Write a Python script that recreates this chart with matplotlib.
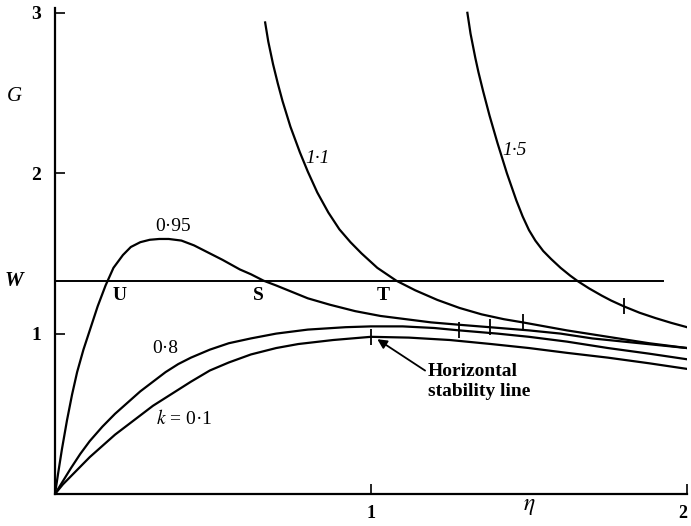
import matplotlib
matplotlib.use('Agg')
import matplotlib.pyplot as plt

# ─── Data (eta, G) ───
eta_k01 = [0.0, 0.025, 0.05, 0.08, 0.11, 0.15, 0.19, 0.23, 0.27, 0.31, 0.35, 0.39, 0.43, 0.49,
           0.55, 0.62, 0.70, 0.77, 0.88, 1.0, 1.12, 1.25, 1.38, 1.5, 1.62, 1.75, 1.88, 2.0]
G_k01 = [0.0, 0.06, 0.11, 0.17, 0.23, 0.30, 0.37, 0.43, 0.49, 0.55, 0.60, 0.65, 0.70, 0.77,
         0.82, 0.87, 0.91, 0.935, 0.96, 0.98, 0.975, 0.96, 0.935, 0.91, 0.88, 0.85, 0.815, 0.78]

eta_k08 = [0.0, 0.025, 0.05, 0.08, 0.11, 0.15, 0.19, 0.23, 0.27, 0.31, 0.35, 0.39, 0.43, 0.49,
           0.55, 0.62, 0.70, 0.80, 0.92, 1.0, 1.1, 1.2, 1.28, 1.4, 1.5, 1.62, 1.75, 1.88, 2.0]
G_k08 = [0.0, 0.08, 0.16, 0.25, 0.33, 0.42, 0.50, 0.57, 0.64, 0.70, 0.76, 0.81, 0.85, 0.90,
         0.94, 0.97, 1.00, 1.025, 1.04, 1.045, 1.045, 1.035, 1.02, 1.0, 0.98, 0.95, 0.91, 0.875, 0.84]

eta_k095 = [0.0, 0.01, 0.022, 0.038, 0.054, 0.07, 0.09, 0.11, 0.135, 0.16, 0.185, 0.215, 0.24,
            0.27, 0.30, 0.33, 0.36, 0.40, 0.44, 0.48, 0.53, 0.585, 0.62, 0.66, 0.70, 0.75,
            0.80, 0.87, 0.95, 1.03, 1.11, 1.19, 1.28, 1.375, 1.5, 1.6, 1.7, 1.8, 1.9, 2.0]
G_k095 = [0.0, 0.13, 0.28, 0.46, 0.62, 0.76, 0.90, 1.02, 1.17, 1.30, 1.41, 1.49, 1.54,
          1.57, 1.585, 1.59, 1.59, 1.58, 1.55, 1.51, 1.46, 1.40, 1.37, 1.33, 1.30, 1.26,
          1.22, 1.18, 1.14, 1.11, 1.09, 1.07, 1.055, 1.04, 1.02, 1.00, 0.97, 0.95, 0.93, 0.91]

eta_k11 = [0.665, 0.675, 0.69, 0.705, 0.72, 0.745, 0.775, 0.80, 0.83, 0.865, 0.90, 0.935, 0.97,
           1.02, 1.08, 1.14, 1.21, 1.28, 1.35, 1.42, 1.48, 1.62, 1.75, 1.88, 2.0]
G_k11 = [2.94, 2.82, 2.68, 2.56, 2.45, 2.29, 2.13, 2.01, 1.88, 1.755, 1.65, 1.57, 1.50,
         1.41, 1.33, 1.27, 1.21, 1.16, 1.12, 1.09, 1.07, 1.02, 0.98, 0.94, 0.91]

eta_k15 = [1.305, 1.315, 1.33, 1.34, 1.355, 1.375, 1.40, 1.43, 1.46, 1.48, 1.50, 1.52, 1.545,
           1.57, 1.60, 1.63, 1.655, 1.69, 1.73, 1.76, 1.80, 1.85, 1.90, 1.95, 2.0]
G_k15 = [3.0, 2.87, 2.72, 2.63, 2.51, 2.36, 2.19, 2.00, 1.83, 1.73, 1.645, 1.58, 1.515,
         1.465, 1.41, 1.362, 1.326, 1.282, 1.237, 1.206, 1.17, 1.13, 1.097, 1.067, 1.04]

# horizontal stability points (small ticks on each curve)
tick_eta = [1.0, 1.28, 1.375, 1.48, 1.80]
tick_G = [0.98, 1.02, 1.04, 1.07, 1.17]

W_level = 1.33
W_end = 1.925

plt.rcParams['font.family'] = ['Liberation Serif', 'DejaVu Serif']
plt.rcParams['mathtext.fontset'] = 'stix'

fig = plt.figure(figsize=(6.91, 5.26), dpi=100)
ax = fig.add_axes([55 / 691, 32 / 526, 632 / 691, 486 / 526])

lw = 1.6
for e, g in [(eta_k01, G_k01), (eta_k08, G_k08), (eta_k095, G_k095),
             (eta_k11, G_k11), (eta_k15, G_k15)]:
    ax.plot(e, g, color='black', linewidth=lw, solid_joinstyle='round')

ax.plot([0, W_end], [W_level, W_level], color='black', linewidth=1.4)
ax.plot(tick_eta, tick_G, linestyle='none', marker='|', markersize=11,
        markeredgewidth=1.3, color='black')

ax.set_xlim(0, 2)
ax.set_ylim(0, 3.03)
for s in ['top', 'right']:
    ax.spines[s].set_visible(False)
for s in ['left', 'bottom']:
    ax.spines[s].set_linewidth(1.6)

ax.set_xticks([1, 2])
ax.set_xticklabels(['1', '2'], fontsize=13, fontweight='bold')
ax.set_yticks([1, 2, 3])
ax.set_yticklabels(['1', '2', '3'], fontsize=14, fontweight='bold')
ax.tick_params(axis='both', direction='in', length=7, width=1.2)
ax.tick_params(axis='x', pad=8)
ax.tick_params(axis='y', pad=10)
ax.get_xticklabels()[1].set_horizontalalignment('right')

# axis names
ax.text(1.5, -0.08, r'$\eta$', fontsize=17, ha='center', va='center', clip_on=False)
ax.text(-0.13, 2.48, 'G', fontsize=15, style='italic', ha='center', va='center', clip_on=False)
ax.text(-0.13, W_level, 'W', fontsize=15, style='italic', fontweight='bold',
        ha='center', va='center', clip_on=False)

# curve labels
fs = 14
ax.text(0.83, 2.09, '1·1', fontsize=fs, style='italic', ha='center', va='center')
ax.text(1.455, 2.14, '1·5', fontsize=fs, style='italic', ha='center', va='center')
ax.text(0.373, 1.67, '0·95', fontsize=fs, ha='center', va='center')
ax.text(0.35, 0.91, '0·8', fontsize=fs, ha='center', va='center')
ax.text(0.41, 0.47, r'$k$ = 0·1', fontsize=fs, ha='center', va='center')
ax.text(0.205, 1.24, 'U', fontsize=fs, fontweight='bold', ha='center', va='center')
ax.text(0.645, 1.24, 'S', fontsize=fs, fontweight='bold', ha='center', va='center')
ax.text(1.04, 1.24, 'T', fontsize=fs, fontweight='bold', ha='center', va='center')

ax.annotate('Horizontal\nstability line', xy=(1.02, 0.965), xytext=(1.18, 0.70),
            fontsize=14, fontweight='bold', ha='left', va='center', linespacing=1.25,
            arrowprops=dict(arrowstyle='-|>', color='black', linewidth=1.3,
                            shrinkA=0, shrinkB=0, mutation_scale=14,
                            relpos=(0.0, 0.75)))

fig.savefig('out.png', dpi=100)
